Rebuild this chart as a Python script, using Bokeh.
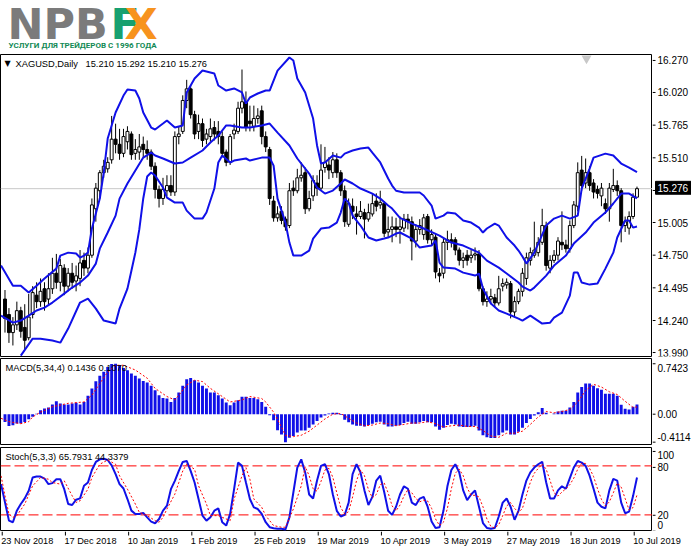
from bokeh.plotting import figure
from bokeh.layouts import column, row
from bokeh.models import Range1d, Label, Span, ColumnDataSource
from bokeh.core.properties import value
from bokeh.embed import file_html
from bokeh.resources import INLINE

# ---------------- data ----------------
symbol = "XAGUSD,Daily"
date_ticks = [0, 16, 32, 48, 64, 80, 96, 112, 128, 144, 160]
date_labels = ["23 Nov 2018", "17 Dec 2018", "10 Jan 2019", "1 Feb 2019", "25 Feb 2019",
               "19 Mar 2019", "10 Apr 2019", "3 May 2019", "27 May 2019", "18 Jun 2019", "10 Jul 2019"]

opens = [14.42, 14.30, 14.16, 14.22, 14.33, 14.20, 14.12, 14.30, 14.45, 14.40,
         14.50, 14.42, 14.50, 14.62, 14.55, 14.66, 14.52, 14.62, 14.56, 14.58,
         14.72, 14.66, 14.76, 15.12, 15.26, 15.40, 15.43, 15.50, 15.66, 15.62,
         15.55, 15.64, 15.70, 15.55, 15.56, 15.62, 15.58, 15.56, 15.45, 15.27,
         15.20, 15.26, 15.30, 15.25, 15.68, 15.72, 15.96, 16.05, 15.85, 15.72,
         15.78, 15.66, 15.68, 15.75, 15.72, 15.68, 15.56, 15.48, 15.70, 15.72,
         15.90, 15.95, 15.80, 15.76, 15.82, 15.88, 15.68, 15.58, 15.18, 15.05,
         15.10, 15.04, 14.99, 15.28, 15.26, 15.36, 15.40, 15.12, 15.22, 15.32,
         15.28, 15.44, 15.46, 15.40, 15.50, 15.40, 15.26, 15.00, 15.14, 15.08,
         15.06, 15.09, 15.04, 15.08, 15.18, 15.15, 15.16, 14.94, 14.96, 14.98,
         14.96, 14.97, 15.04, 15.02, 14.87, 14.96, 14.92, 15.06, 14.88, 14.90,
         14.62, 14.62, 14.86, 14.88, 14.88, 14.80, 14.72, 14.76, 14.74, 14.76,
         14.77, 14.50, 14.40, 14.42, 14.43, 14.39, 14.52, 14.53, 14.54, 14.32,
         14.40, 14.48, 14.58, 14.72, 14.76, 14.78, 14.86, 14.99, 14.66, 14.72,
         14.76, 14.86, 14.84, 14.81, 14.99, 15.14, 15.42, 15.32, 15.40, 15.32,
         15.27, 15.22, 15.16, 15.12, 15.27, 15.30, 15.26, 14.99, 14.97, 15.06,
         15.210]
highs = [14.49, 14.35, 14.28, 14.40, 14.36, 14.38, 14.46, 14.52, 14.55, 14.58,
         14.55, 14.62, 14.74, 14.77, 14.73, 14.69, 14.66, 14.70, 14.68, 14.80,
         14.78, 14.82, 15.20, 15.32, 15.42, 15.50, 15.52, 15.84, 15.78, 15.74,
         15.74, 15.76, 15.72, 15.66, 15.70, 15.68, 15.65, 15.58, 15.48, 15.30,
         15.36, 15.38, 15.38, 15.72, 15.76, 16.00, 16.12, 16.08, 15.88, 15.85,
         15.82, 15.74, 15.82, 15.80, 15.80, 15.72, 15.58, 15.70, 15.78, 15.95,
         16.20, 16.03, 15.92, 15.92, 15.90, 15.92, 15.72, 15.60, 15.22, 15.14,
         15.14, 15.06, 15.32, 15.34, 15.43, 15.48, 15.44, 15.26, 15.38, 15.38,
         15.62, 15.60, 15.52, 15.56, 15.55, 15.42, 15.30, 15.20, 15.20, 15.14,
         15.18, 15.12, 15.16, 15.24, 15.24, 15.26, 15.18, 15.06, 15.06, 15.05,
         15.06, 15.08, 15.08, 15.06, 15.00, 15.04, 15.08, 15.08, 14.96, 14.93,
         14.66, 14.90, 14.95, 14.93, 14.90, 14.82, 14.78, 14.80, 14.80, 14.82,
         14.80, 14.52, 14.48, 14.50, 14.46, 14.60, 14.58, 14.58, 14.56, 14.44,
         14.50, 14.66, 14.78, 14.82, 15.02, 14.90, 15.12, 15.02, 14.76, 14.80,
         14.90, 15.10, 14.88, 15.03, 15.18, 15.48, 15.53, 15.51, 15.45, 15.35,
         15.30, 15.32, 15.20, 15.32, 15.43, 15.34, 15.28, 15.06, 15.10, 15.24,
         15.292]
lows = [14.16, 14.08, 14.06, 14.18, 14.12, 14.03, 14.10, 14.27, 14.35, 14.36,
        14.33, 14.38, 14.46, 14.50, 14.48, 14.45, 14.48, 14.50, 14.48, 14.52,
        14.60, 14.62, 14.74, 15.02, 15.20, 15.36, 15.40, 15.47, 15.55, 15.50,
        15.52, 15.58, 15.50, 15.50, 15.50, 15.52, 15.50, 15.42, 15.20, 15.13,
        15.15, 15.22, 15.22, 15.22, 15.62, 15.70, 15.90, 15.82, 15.66, 15.66,
        15.60, 15.62, 15.64, 15.65, 15.62, 15.52, 15.45, 15.46, 15.66, 15.70,
        15.86, 15.72, 15.72, 15.72, 15.78, 15.62, 15.56, 15.15, 15.02, 15.02,
        15.00, 14.95, 14.97, 15.22, 15.24, 15.33, 15.08, 15.10, 15.18, 15.22,
        15.26, 15.40, 15.35, 15.36, 15.36, 15.22, 14.98, 14.98, 15.04, 14.92,
        15.04, 14.89, 15.02, 15.06, 15.10, 15.12, 14.90, 14.90, 14.86, 14.90,
        14.85, 14.94, 14.96, 14.72, 14.82, 14.92, 14.88, 14.85, 14.84, 14.58,
        14.55, 14.58, 14.80, 14.82, 14.76, 14.68, 14.66, 14.68, 14.70, 14.72,
        14.48, 14.37, 14.36, 14.38, 14.36, 14.37, 14.48, 14.50, 14.27, 14.28,
        14.38, 14.44, 14.53, 14.68, 14.74, 14.75, 14.84, 14.64, 14.62, 14.70,
        14.72, 14.80, 14.78, 14.78, 14.97, 15.10, 15.26, 15.28, 15.26, 15.20,
        15.20, 15.14, 15.08, 15.02, 15.25, 15.22, 14.86, 14.94, 14.92, 15.04,
        15.210]
closes = [14.27, 14.16, 14.22, 14.33, 14.17, 14.10, 14.28, 14.47, 14.40, 14.48,
          14.40, 14.50, 14.62, 14.55, 14.68, 14.52, 14.62, 14.55, 14.60, 14.70,
          14.66, 14.76, 15.15, 15.28, 15.40, 15.45, 15.48, 15.66, 15.62, 15.55,
          15.68, 15.72, 15.54, 15.58, 15.60, 15.58, 15.55, 15.45, 15.27, 15.20,
          15.27, 15.30, 15.25, 15.68, 15.70, 15.96, 16.05, 15.85, 15.70, 15.78,
          15.65, 15.70, 15.74, 15.70, 15.68, 15.55, 15.48, 15.68, 15.73, 15.90,
          15.95, 15.75, 15.78, 15.82, 15.84, 15.68, 15.60, 15.20, 15.05, 15.08,
          15.03, 14.98, 15.26, 15.26, 15.36, 15.38, 15.12, 15.20, 15.34, 15.28,
          15.42, 15.48, 15.42, 15.50, 15.40, 15.26, 15.02, 15.16, 15.10, 15.06,
          15.10, 15.04, 15.09, 15.16, 15.14, 15.17, 14.93, 14.96, 14.98, 14.96,
          14.98, 15.04, 15.02, 14.87, 14.96, 14.99, 15.05, 14.88, 14.92, 14.63,
          14.60, 14.86, 14.88, 14.86, 14.80, 14.72, 14.74, 14.72, 14.76, 14.77,
          14.50, 14.40, 14.42, 14.44, 14.39, 14.50, 14.54, 14.55, 14.32, 14.40,
          14.48, 14.62, 14.74, 14.78, 14.80, 14.86, 14.99, 14.68, 14.72, 14.76,
          14.87, 14.84, 14.81, 14.99, 15.15, 15.40, 15.30, 15.40, 15.30, 15.25,
          15.24, 15.28, 15.12, 15.28, 15.30, 15.26, 14.99, 15.02, 15.06, 15.21,
          15.276]

bb_upper_x = [-1, 2, 4, 6, 8, 10, 13, 14, 16, 18, 19, 20, 21, 22, 24, 25, 26, 28, 30, 31,
              33, 34, 35, 37, 38, 40, 41, 43, 45, 46, 48, 50, 53, 54, 56, 58, 60, 61, 62, 64,
              66, 67, 69, 72, 73, 74, 76, 78, 79, 80, 81, 83, 85, 86, 88, 90, 92, 93, 95, 97,
              98, 99, 101, 105, 106, 108, 109, 111, 112, 114, 116, 118, 120, 121, 122, 124, 125, 127, 129, 130,
              131, 132, 134, 137, 139, 141, 143, 145, 146, 148, 149, 152, 154, 156, 158, 160]
bb_upper_y = [14.680, 14.524, 14.524, 14.470, 14.524, 14.579, 14.656, 14.757, 14.780, 14.773,
              14.742, 14.757, 14.780, 14.967, 15.199, 15.401, 15.665, 15.867, 15.998, 16.045,
              16.037, 15.975, 15.867, 15.750, 15.735, 15.781, 15.805, 15.750, 15.766, 16.022,
              16.130, 16.192, 16.169, 16.076, 16.037, 16.053, 16.022, 15.936, 15.983, 16.014,
              16.037, 16.037, 16.192, 16.293, 16.270, 16.130, 16.022, 15.820, 15.611, 15.471,
              15.479, 15.533, 15.517, 15.548, 15.572, 15.587, 15.595, 15.556, 15.479, 15.355,
              15.300, 15.260, 15.246, 15.246, 15.223, 15.145, 15.044, 15.067, 15.091, 15.083,
              15.029, 15.013, 14.974, 14.936, 14.967, 15.005, 14.990, 14.897, 14.835, 14.796,
              14.750, 14.695, 14.780, 14.990, 15.044, 15.067, 15.044, 15.067, 15.277, 15.432,
              15.517, 15.548, 15.533, 15.471, 15.440, 15.405]
bb_mid_x = [-1, 2, 4, 6, 8, 10, 12, 15, 17, 19, 21, 23, 24, 26, 28, 29, 31, 33, 35, 37,
            38, 40, 43, 45, 47, 50, 52, 54, 56, 57, 60, 62, 65, 67, 69, 72, 74, 77, 79, 81,
            83, 85, 86, 88, 90, 93, 95, 97, 98, 100, 103, 106, 110, 113, 116, 120, 122, 125, 127, 130,
            131, 133, 134, 137, 139, 142, 144, 147, 149, 152, 154, 156, 158, 160]
bb_mid_y = [14.292, 14.237, 14.253, 14.292, 14.331, 14.354, 14.393, 14.462, 14.509, 14.548,
            14.602, 14.695, 14.811, 14.936, 15.067, 15.199, 15.316, 15.417, 15.517, 15.556,
            15.533, 15.510, 15.471, 15.479, 15.517, 15.572, 15.634, 15.688, 15.766, 15.766,
            15.750, 15.750, 15.766, 15.781, 15.711, 15.611, 15.510, 15.393, 15.285, 15.238,
            15.261, 15.316, 15.347, 15.316, 15.277, 15.238, 15.199, 15.145, 15.122, 15.050,
            15.005, 14.967, 14.912, 14.858, 14.835, 14.780, 14.718, 14.664, 14.618, 14.548,
            14.516, 14.486, 14.509, 14.602, 14.680, 14.757, 14.850, 14.936, 15.013, 15.091,
            15.161, 15.238, 15.238, 15.200]
bb_lower_x = [4, 7, 9, 12, 14, 16, 19, 21, 23, 25, 28, 29, 31, 32, 33, 34, 35, 36, 37, 38,
              40, 41, 43, 45, 46, 48, 50, 51, 53, 54, 55, 57, 58, 61, 62, 65, 67, 68, 69, 71,
              72, 73, 75, 77, 78, 80, 82, 84, 85, 86, 87, 88, 90, 92, 94, 96, 97, 99, 100, 103,
              105, 108, 109, 110, 111, 114, 116, 119, 120, 121, 123, 125, 127, 130, 131, 133, 136, 138, 139, 141,
              143, 144, 145, 146, 148, 150, 152, 154, 155, 157, 158, 159, 160]
bb_lower_y = [13.981, 14.113, 14.113, 14.098, 14.082, 14.191, 14.393, 14.424, 14.346, 14.253,
              14.230, 14.346, 14.501, 14.640, 14.780, 14.960, 15.200, 15.370, 15.401, 15.378,
              15.285, 15.207, 15.168, 15.168, 15.106, 15.044, 15.044, 15.091, 15.277, 15.479,
              15.533, 15.479, 15.494, 15.510, 15.494, 15.517, 15.517, 15.455, 15.199, 15.013,
              14.858, 14.757, 14.757, 14.796, 14.889, 14.967, 14.974, 15.013, 15.091, 15.199,
              15.168, 15.067, 14.990, 14.897, 14.874, 14.889, 14.897, 14.928, 14.936, 14.889,
              14.819, 14.835, 14.874, 14.703, 14.664, 14.656, 14.625, 14.602, 14.618, 14.501,
              14.385, 14.331, 14.307, 14.268, 14.253, 14.292, 14.230, 14.237, 14.276, 14.315,
              14.447, 14.625, 14.625, 14.548, 14.532, 14.540, 14.656, 14.780, 14.897, 15.029,
              15.029, 14.974, 14.982]

macd_hist = [-0.113, -0.172, -0.162, -0.137, -0.137, -0.113, -0.074, -0.039, 0.005, 0.059,
             0.083, 0.098, 0.142, 0.191, 0.157, 0.142, 0.142, 0.157, 0.167, 0.142,
             0.181, 0.270, 0.377, 0.485, 0.564, 0.623, 0.696, 0.740, 0.742, 0.721,
             0.681, 0.647, 0.598, 0.564, 0.525, 0.490, 0.466, 0.417, 0.353, 0.279,
             0.240, 0.230, 0.181, 0.240, 0.319, 0.417, 0.515, 0.534, 0.500, 0.466,
             0.417, 0.377, 0.319, 0.319, 0.279, 0.230, 0.172, 0.132, 0.172, 0.206,
             0.255, 0.255, 0.240, 0.240, 0.221, 0.181, 0.108, -0.015, -0.088, -0.235,
             -0.299, -0.411, -0.348, -0.319, -0.270, -0.240, -0.240, -0.200, -0.150, -0.100,
             -0.050, -0.020, 0.010, 0.020, 0.020, -0.010, -0.080, -0.120, -0.150, -0.170,
             -0.170, -0.180, -0.160, -0.140, -0.120, -0.110, -0.150, -0.180, -0.180, -0.170,
             -0.160, -0.130, -0.110, -0.140, -0.140, -0.120, -0.100, -0.120, -0.120, -0.180,
             -0.230, -0.200, -0.160, -0.140, -0.150, -0.180, -0.190, -0.190, -0.180, -0.170,
             -0.240, -0.310, -0.340, -0.350, -0.350, -0.310, -0.270, -0.240, -0.300, -0.300,
             -0.260, -0.200, -0.130, -0.070, -0.020, 0.030, 0.090, 0.020, 0.000, 0.010,
             0.040, 0.050, 0.050, 0.100, 0.180, 0.320, 0.400, 0.450, 0.450, 0.420,
             0.380, 0.360, 0.300, 0.300, 0.300, 0.270, 0.140, 0.080, 0.070, 0.110,
             0.1436]
macd_sig_x = [-1, 1, 4, 6, 7, 9, 12, 16, 20, 22, 24, 26, 28, 30, 33, 36, 38, 41, 43, 44,
              46, 48, 50, 52, 55, 57, 60, 62, 65, 66, 68, 70, 71, 73, 75, 77, 79, 81, 83, 85,
              87, 89, 91, 93, 95, 97, 99, 101, 103, 105, 107, 109, 111, 113, 115, 117, 119, 121, 123, 125,
              127, 129, 131, 133, 135, 137, 139, 141, 143, 145, 147, 149, 151, 153, 155, 157, 159, 160]
macd_sig_y = [-0.06, -0.11, -0.14, -0.11, -0.04, 0.03, 0.11, 0.16, 0.18, 0.28,
              0.45, 0.62, 0.72, 0.72, 0.65, 0.53, 0.38, 0.26, 0.21, 0.28,
              0.43, 0.50, 0.48, 0.38, 0.26, 0.18, 0.21, 0.26, 0.23, 0.18,
              0.03, -0.19, -0.31, -0.33, -0.31, -0.25, -0.16, -0.07, 0.00, 0.01,
              -0.06, -0.13, -0.17, -0.16, -0.13, -0.14, -0.17, -0.15, -0.13, -0.13,
              -0.11, -0.14, -0.19, -0.17, -0.16, -0.18, -0.18, -0.24, -0.32, -0.34,
              -0.28, -0.28, -0.25, -0.15, -0.04, 0.04, 0.02, 0.04, 0.07, 0.18,
              0.35, 0.44, 0.40, 0.33, 0.29, 0.19, 0.10, 0.107]
macd_signal_last = 0.1070

stoch_main = [57.7, 35.3, 13.0, 11.0, 25.2, 33.3, 40.2, 49.5, 65.7, 66.9,
              66.9, 64.5, 57.7, 58.9, 63.7, 63.7, 51.5, 33.3, 32.1, 38.6,
              40.2, 55.6, 59.6, 75.0, 84.8, 88.0, 88.8, 87.2, 80.7, 69.8,
              57.7, 52.3, 39.4, 25.2, 21.2, 21.2, 22.5, 17.0, 11.8, 9.8,
              15.0, 25.2, 31.2, 51.5, 61.7, 73.8, 84.8, 86.0, 73.8, 59.6,
              39.4, 19.1, 13.0, 17.0, 25.2, 28.0, 11.0, 6.9, 21.2, 51.5,
              84.0, 80.0, 59.6, 39.4, 29.2, 27.2, 21.2, 11.0, 4.9, 3.7,
              2.9, 2.9, 2.1, 17.0, 47.4, 77.9, 88.0, 72.0, 45.0, 40.0,
              62.0, 80.0, 82.0, 70.0, 45.0, 25.0, 18.0, 20.0, 35.0, 70.0,
              82.0, 72.0, 50.0, 32.0, 42.0, 62.0, 68.0, 48.0, 25.0, 20.0,
              30.0, 45.0, 55.0, 52.0, 35.0, 32.0, 40.0, 42.0, 30.0, 12.0,
              4.0, 5.0, 25.0, 55.0, 75.0, 82.0, 72.0, 50.0, 38.0, 45.0,
              50.0, 30.0, 10.0, 4.0, 3.0, 4.0, 18.0, 35.0, 40.0, 30.0,
              14.0, 25.0, 45.0, 62.0, 72.0, 78.0, 82.0, 85.0, 60.0, 40.0,
              40.0, 50.0, 55.0, 52.0, 65.0, 78.0, 86.0, 84.0, 80.0, 68.0,
              52.0, 35.0, 30.0, 28.0, 50.0, 64.0, 62.0, 35.0, 22.0, 24.0,
              43.0, 65.7931]
stoch_sig_x = [-1, 0, 1, 2, 3, 5, 7, 9, 11, 12, 14, 15, 17, 18, 19, 21, 22, 24, 26, 28,
               29, 31, 33, 34, 36, 38, 39, 40, 41, 43, 44, 45, 46, 48, 49, 51, 52, 54, 55, 57,
               58, 60, 61, 62, 63, 65, 66, 68, 70, 71, 73, 75, 76, 77, 78, 79, 80, 81, 82, 83,
               84, 85, 86, 87, 88, 89, 90, 91, 92, 93, 94, 95, 96, 97, 98, 99, 100, 101, 102, 103,
               104, 105, 106, 107, 108, 109, 110, 111, 112, 113, 114, 115, 116, 117, 118, 119, 120, 121, 122, 123,
               124, 125, 126, 127, 128, 129, 130, 131, 132, 133, 134, 135, 136, 137, 138, 139, 140, 141, 142, 143,
               144, 145, 146, 147, 148, 149, 150, 151, 152, 153, 154, 155, 156, 157, 158, 159, 160]
stoch_sig_y = [67.8, 43.4, 21.2, 17.0, 19.0, 33.3, 55.6, 65.7, 63.7, 59.6,
               57.7, 61.7, 43.4, 35.3, 37.3, 51.5, 65.7, 82.0, 87.2, 82.0,
               67.8, 51.5, 33.3, 23.1, 19.1, 13.0, 11.0, 17.0, 27.2, 45.4,
               59.6, 73.8, 82.0, 75.9, 55.6, 33.3, 19.1, 19.1, 17.0, 13.0,
               39.4, 67.8, 77.9, 63.7, 39.4, 29.2, 19.1, 6.9, 4.9, 4.9,
               27.2, 55.6, 79.0, 68.0, 52.0, 49.0, 61.0, 75.0, 77.0, 66.0,
               47.0, 29.0, 21.0, 24.0, 42.0, 62.0, 75.0, 68.0, 51.0, 41.0,
               45.0, 57.0, 59.0, 47.0, 31.0, 25.0, 32.0, 43.0, 51.0, 47.0,
               40.0, 36.0, 38.0, 37.0, 28.0, 15.0, 7.0, 11.0, 28.0, 52.0,
               71.0, 76.0, 68.0, 53.0, 44.0, 44.0, 42.0, 30.0, 15.0, 6.0,
               4.0, 8.0, 19.0, 31.0, 35.0, 28.0, 23.0, 28.0, 44.0, 60.0,
               71.0, 77.0, 82.0, 76.0, 62.0, 47.0, 43.0, 48.0, 52.0, 57.0,
               65.0, 76.0, 83.0, 83.0, 77.0, 67.0, 52.0, 39.0, 31.0, 36.0,
               47.0, 59.0, 54.0, 40.0, 26.0, 29.0, 44.3379]

price_ticks = [16.270, 16.020, 15.765, 15.510, 15.255, 15.005, 14.750, 14.495, 14.240, 13.990]
macd_ticks_mid = [0.0]
macd_max, macd_min = 0.7423, -0.4114
stoch_levels = [80, 20]
stoch_max, stoch_min = 100, 0

# ---------------- layout constants ----------------
PW = 652          # plot frame width
AXW = 39          # right price-scale column
FULLW = PW + AXW
BAR_PX = 3.95
X0 = -1.139
X_RANGE = Range1d(X0, X0 + PW / BAR_PX)
FONT = "Liberation Sans"
BLUE = "#1010e8"
RED = "#ff0000"

MAIN_H, MAIN_FRAME = 304, 302
MACD_H = 87
STOCH_H, STOCH_FRAME = 86, 84
DATE_H = 18
MAIN_Y = (13.9745, 16.3165)
MACD_Y = (-0.4606, 0.8196)
STOCH_Y = (-0.33, 102.5)


def plot_fig(height, yr, top=0, bottom=0):
    p = figure(width=PW, height=height, x_range=X_RANGE, y_range=Range1d(*yr),
               output_backend="svg", toolbar_location=None,
               x_axis_location=None, y_axis_location=None,
               min_border_left=0, min_border_right=0,
               min_border_top=top, min_border_bottom=bottom,
               background_fill_color="white", border_fill_color="white")
    p.grid.visible = False
    p.outline_line_color = "black"
    p.outline_line_width = 1
    return p


def axis_fig(height, yr):
    a = figure(width=AXW, height=height, x_range=Range1d(0, AXW), y_range=Range1d(*yr),
               output_backend="svg", toolbar_location=None,
               x_axis_location=None, y_axis_location=None, min_border=0,
               background_fill_color="white", border_fill_color="white")
    a.grid.visible = False
    a.outline_line_color = None
    return a


def scale_labels(a, ticks, texts, baseline="middle", label_shift=0.0):
    a.segment(x0=0, y0=ticks, x1=3, y1=ticks, line_color="black", line_width=1)
    a.text(x=5, y=[t + label_shift for t in ticks], text=texts, text_font=value(FONT),
           text_font_size="10px", text_color="black", text_baseline=baseline, text_align="left")


def title_label(p, yr, text, x_off, size="9.3px", color="black", font=FONT, y_off=-9):
    p.add_layout(Label(x=X_RANGE.start, y=yr[1], x_offset=x_off, y_offset=y_off, text=text,
                       text_font=font, text_font_size=size, text_color=color,
                       text_baseline="middle", text_align="left"))


# ---- logo ----
logo = figure(width=FULLW, height=54, x_range=Range1d(0, FULLW), y_range=Range1d(0, 54),
              output_backend="svg", toolbar_location=None, x_axis_location=None,
              y_axis_location=None, min_border=0, outline_line_color=None)
logo.grid.visible = False
for txt, xx, col in (("NPB", 7, "#7b7b7b"), ("F", 110, "#17a070"), ("X", 124, "#f7931e")):
    logo.text(x=[xx], y=[31], text=[txt], text_font=value("DejaVu Sans"), text_font_style="bold",
              text_font_size="43px", text_color=col, text_baseline="middle", text_align="left")
logo.text(x=[8], y=[9], text=["УСЛУГИ ДЛЯ ТРЕЙДЕРОВ С 1996 ГОДА"],
          text_font=value("Roboto"), text_font_style="bold",
          text_font_size="8px", text_color="#128a55", text_baseline="middle", text_align="left")

# ---- main price panel ----
bars = list(range(len(closes)))
main = plot_fig(MAIN_H, MAIN_Y, 0, MAIN_H - MAIN_FRAME)
px_per_price = MAIN_FRAME / (MAIN_Y[1] - MAIN_Y[0])
main.add_layout(Span(location=closes[-1], dimension="width", line_color="#c8c8c8",
                     line_width=1, level="underlay"))
up = [i for i in bars if closes[i] >= opens[i]]
dn = [i for i in bars if closes[i] < opens[i]]
wick_src = ColumnDataSource(dict(x=bars, lo=lows, hi=highs))
main.segment(x0="x", y0="lo", x1="x", y1="hi", source=wick_src, line_color="black", line_width=1)
main.vbar(x=up, width=0.74, top=[closes[i] for i in up], bottom=[opens[i] for i in up],
          fill_color="white", line_color="black", line_width=1)
main.vbar(x=dn, width=0.74, top=[opens[i] for i in dn], bottom=[closes[i] for i in dn],
          fill_color="black", line_color="black", line_width=1)
for bx, by in ((bb_upper_x, bb_upper_y), (bb_mid_x, bb_mid_y), (bb_lower_x, bb_lower_y)):
    main.line(bx, by, line_color=BLUE, line_width=2)

# chart-shift marker (grey triangle at the top edge)
main.scatter(x=[X_RANGE.end - 66 / BAR_PX], y=[MAIN_Y[1] - 4 / px_per_price],
             marker="inverted_triangle", size=10, fill_color="#c8c8c8", line_color=None)

title_label(main, MAIN_Y, "▼", 4, size="8px", font="DejaVu Sans")
title_label(main, MAIN_Y, symbol, 15)
title_label(main, MAIN_Y, "%.3f %.3f %.3f %.3f" % (opens[-1], highs[-1], lows[-1], closes[-1]), 85)

main_ax = axis_fig(MAIN_H, (MAIN_Y[0] - (MAIN_H - MAIN_FRAME) / px_per_price, MAIN_Y[1]))
scale_labels(main_ax, price_ticks, ["%.3f" % t for t in price_ticks])
box_h = 13 / px_per_price
main_ax.rect(x=[(3 + AXW) / 2], y=[closes[-1]], width=AXW - 3, height=box_h,
             fill_color="black", line_color="black")
main_ax.text(x=[5], y=[closes[-1]], text=["%.3f" % closes[-1]], text_font=value(FONT),
             text_font_size="10px", text_color="white", text_baseline="middle", text_align="left")

# ---- MACD panel ----
macd = plot_fig(MACD_H, MACD_Y)
macd.vbar(x=bars, top=macd_hist, bottom=0, width=0.74, fill_color=BLUE, line_color=None)
macd.line(macd_sig_x, macd_sig_y, line_color=RED, line_width=1, line_dash="2 2")
title_label(macd, MACD_Y, "MACD(5,34,4) %.4f %.4f" % (macd_hist[-1], macd_signal_last), 5)

px_per_macd = MACD_H / (MACD_Y[1] - MACD_Y[0])
macd_ax = axis_fig(MACD_H, MACD_Y)
scale_labels(macd_ax, macd_ticks_mid, ["0.00"])
scale_labels(macd_ax, [macd_max], ["%.4f" % macd_max], baseline="top")
scale_labels(macd_ax, [macd_min], ["%.4f" % macd_min], baseline="bottom",
             label_shift=1.5 / px_per_macd)

# ---- Stochastic panel ----
stoch = plot_fig(STOCH_H, STOCH_Y, STOCH_H - STOCH_FRAME, 0)
for lv in stoch_levels:
    stoch.line([X_RANGE.start, X_RANGE.end], [lv, lv], line_color=RED, line_width=1,
               line_dash="10 4")
stoch_x = list(range(-1, len(stoch_main) - 1))
stoch.line(stoch_x, stoch_main, line_color=BLUE, line_width=2)
stoch.line(stoch_sig_x, stoch_sig_y, line_color=RED, line_width=1, line_dash="2 2")
title_label(stoch, STOCH_Y, "Stoch(5,3,3) %.4f %.4f" % (stoch_main[-1], stoch_sig_y[-1]), 5)

px_per_stoch = STOCH_FRAME / (STOCH_Y[1] - STOCH_Y[0])
stoch_ax = axis_fig(STOCH_H, (STOCH_Y[0], STOCH_Y[1] + (STOCH_H - STOCH_FRAME) / px_per_stoch))
scale_labels(stoch_ax, stoch_levels, ["%d" % v for v in stoch_levels])
scale_labels(stoch_ax, [stoch_max], ["%d" % stoch_max], baseline="top")
scale_labels(stoch_ax, [stoch_min], ["%d" % stoch_min], baseline="bottom",
             label_shift=2.0 / px_per_stoch)

# ---- date scale ----
dates = figure(width=FULLW, height=DATE_H, x_range=Range1d(X0, X0 + FULLW / BAR_PX),
               y_range=Range1d(0, DATE_H), output_backend="svg", toolbar_location=None,
               x_axis_location=None, y_axis_location=None, min_border=0,
               background_fill_color="white", border_fill_color="white")
dates.grid.visible = False
dates.outline_line_color = None
tick_pos = [t - 0.7 for t in date_ticks]
dates.segment(x0=tick_pos, y0=DATE_H, x1=tick_pos, y1=DATE_H - 4, line_color="black", line_width=1)
dates.text(x=tick_pos, y=DATE_H / 2, text=date_labels, x_offset=-1, text_font=value(FONT),
           text_font_size="9.2px", text_color="black", text_baseline="middle", text_align="left")

layout = column(logo,
                row(main, main_ax, spacing=0),
                row(macd, macd_ax, spacing=0),
                row(stoch, stoch_ax, spacing=0),
                dates, spacing=0)
open("out.html", "w").write(file_html(layout, INLINE))
